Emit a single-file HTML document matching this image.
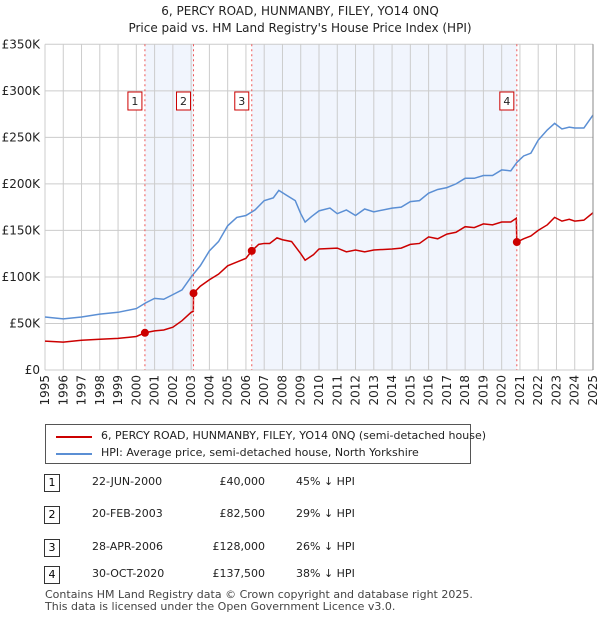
<!DOCTYPE html>
<html><head><meta charset="utf-8"><style>
body{margin:0;background:#fff;font-family:"DejaVu Sans","Liberation Sans",sans-serif;}
#wrap{position:relative;width:600px;height:620px;}
.t{position:absolute;font-size:12px;color:#222;white-space:nowrap;}
svg text{font-family:"DejaVu Sans","Liberation Sans",sans-serif;}
</style></head><body>
<div id="wrap">
<svg id="chart" width="600" height="420" style="position:absolute;left:0;top:0">
<text x="300" y="15" text-anchor="middle" font-size="12" fill="#222">6, PERCY ROAD, HUNMANBY, FILEY, YO14 0NQ</text>
<text x="300" y="32" text-anchor="middle" font-size="12" fill="#222">Price paid vs. HM Land Registry's House Price Index (HPI)</text>
<g id="bg"></g><g id="grid"></g><g id="series"></g><g id="marks"></g><g id="axes"></g>
</svg>
<div style="position:absolute;left:45px;top:424px;width:424px;height:38px;border:1px solid #555;">
<div style="position:absolute;left:10px;top:11px;width:36px;height:2px;background:#cc0000"></div>
<div class="t" style="left:55px;top:4px;font-size:11px">6, PERCY ROAD, HUNMANBY, FILEY, YO14 0NQ (semi-detached house)</div>
<div style="position:absolute;left:10px;top:28px;width:36px;height:2px;background:#5b8fd4"></div>
<div class="t" style="left:55px;top:21px;font-size:11px">HPI: Average price, semi-detached house, North Yorkshire</div>
</div>
<div id="table"></div>
<div class="t" style="left:45px;top:589px;font-size:11px;color:#444;line-height:12px">Contains HM Land Registry data © Crown copyright and database right 2025.<br>This data is licensed under the Open Government Licence v3.0.</div>
</div>
<script>
const hpiYears=[1995,1996,1997,1998,1999,2000,2000.5,2001,2001.5,2002,2002.5,2003,2003.5,2004,2004.5,2005,2005.5,2006,2006.5,2007,2007.5,2007.8,2008.2,2008.7,2009,2009.24,2009.6,2010,2010.6,2011,2011.5,2012,2012.5,2013,2014,2014.5,2015,2015.5,2016,2016.5,2017,2017.5,2018,2018.5,2019,2019.5,2020,2020.5,2020.83,2021.2,2021.6,2022,2022.5,2022.9,2023.3,2023.7,2024,2024.5,2025];
const hpiValues=[57,55,57,60,62,66,72,77,76,81,86,100,112,128,138,155,164,166,172,182,185,193,188,182,168,159,165,171,174,168,172,166,173,170,174,175,181,182,190,194,196,200,206,206,209,209,215,214,223,230,233,247,258,265,259,261,260,260,274];
const ppYears=[1995,1996,1997,1998,1999,2000,2000.47,2001,2001.5,2002,2002.5,2003,2003.12,2003.13,2003.5,2004,2004.5,2005,2005.5,2006,2006.32,2006.7,2007,2007.3,2007.7,2008,2008.5,2009,2009.24,2009.7,2010,2011,2011.5,2012,2012.5,2013,2014,2014.5,2015,2015.5,2016,2016.5,2017,2017.5,2018,2018.5,2019,2019.5,2020,2020.5,2020.8,2020.83,2021.2,2021.6,2022,2022.5,2022.9,2023.3,2023.7,2024,2024.5,2025];
const ppValues=[31,30,32,33,34,36,40,42,43,46,53,62,63,82.5,90,97,103,112,116,120,128,135,136,136,142,140,138,125,118,124,130,131,127,129,127,129,130,131,135,136,143,141,146,148,154,153,157,156,159,159,163,137.5,141,144,150,156,164,160,162,160,161,169];
const saleYears=[2000.47,2003.13,2006.32,2020.83];
const saleValues=[40,82.5,128,137.5];
const saleLabels=["1","2","3","4"];
const saleDates=["22-JUN-2000","20-FEB-2003","28-APR-2006","30-OCT-2020"];
const salePrices=["£40,000","£82,500","£128,000","£137,500"];
const saleDiffs=["45% ↓ HPI","29% ↓ HPI","26% ↓ HPI","38% ↓ HPI"];
const yTicks=[0,50,100,150,200,250,300,350];
const yTickLabels=["£0","£50K","£100K","£150K","£200K","£250K","£300K","£350K"];
const xTicks=[1995,1996,1997,1998,1999,2000,2001,2002,2003,2004,2005,2006,2007,2008,2009,2010,2011,2012,2013,2014,2015,2016,2017,2018,2019,2020,2021,2022,2023,2024,2025];

const X0=45,X1=593,Y0=370,Y1=44.3;
const x=y=>X0+(y-1995)/30*(X1-X0);
const yv=v=>Y0-v/350*(Y0-Y1);
const NS="http://www.w3.org/2000/svg";
function mk(tag,parent,attrs){const e=document.createElementNS(NS,tag);for(const k in attrs)e.setAttribute(k,attrs[k]);document.getElementById(parent).appendChild(e);return e;}
for(let i=0;i<4;i+=2){
 const r=mk('rect','bg',{x:x(saleYears[i]),y:Y1,width:x(saleYears[i+1])-x(saleYears[i]),height:Y0-Y1,fill:'#eef3fd',opacity:0.8});
 
 
}
yTicks.forEach((t,i)=>{
 const l=mk('line','grid',{x1:X0,x2:X1,y1:yv(t),y2:yv(t),stroke:'#ccc','stroke-width':1});
 
 
 const tx=mk('text','axes',{x:40,y:yv(t)+4,'text-anchor':'end','font-size':12,fill:'#222'});
 tx.textContent=yTickLabels[i];
 
 
});
xTicks.forEach(t=>{
 const l=mk('line','grid',{x1:x(t),x2:x(t),y1:Y1,y2:Y0,stroke:'#ccc','stroke-width':1});
 
 
 const tx=mk('text','axes',{x:0,y:0,'text-anchor':'end','font-size':12,fill:'#222',transform:`translate(${x(t)+4},375) rotate(-90)`});
 tx.textContent=t;
 
 
});
const ax=mk('line','axes',{x1:X1,x2:X1,y1:Y1,y2:Y0,stroke:'#888','stroke-width':1});


const hp=mk('polyline','series',{points:hpiYears.map((t,i)=>x(t)+','+yv(hpiValues[i])).join(' '),fill:'none',stroke:'#5b8fd4','stroke-width':1.5});


const pp=mk('polyline','series',{points:ppYears.map((t,i)=>x(t)+','+yv(ppValues[i])).join(' '),fill:'none',stroke:'#cc0000','stroke-width':1.5});


saleYears.forEach((t,i)=>{
 const l=mk('line','marks',{x1:x(t),x2:x(t),y1:Y1,y2:Y0,stroke:'#e55','stroke-width':1,'stroke-dasharray':'2,3'});
 
 
 const c=mk('circle','marks',{cx:x(t),cy:yv(saleValues[i]),r:4,fill:'#cc0000'});
 
 
 const bx=mk('rect','marks',{x:x(t)-17,y:92,width:14,height:18,fill:'#fff',stroke:'#cc0000'});
 
 
 const tx=mk('text','marks',{x:x(t)-10,y:105,'text-anchor':'middle','font-size':11,fill:'#222'});
 tx.textContent=saleLabels[i];
 
 
});
const tb=document.getElementById('table');
const rowY=[482,514,547,574];
saleLabels.forEach((s,i)=>{
 const r=document.createElement('div');
 
 
 r.innerHTML=`<div style="position:absolute;left:44px;top:${rowY[i]-8}px;width:14px;height:16px;border:1px solid #333;font-size:11px;text-align:center;line-height:16px">${s}</div>
<div class="t" style="left:92px;top:${rowY[i]-7}px;font-size:11px">${saleDates[i]}</div>
<div class="t" style="left:180px;top:${rowY[i]-7}px;width:85px;text-align:right;font-size:11px">${salePrices[i]}</div>
<div class="t" style="left:296px;top:${rowY[i]-7}px;font-size:11px">${saleDiffs[i]}</div>`;
 tb.appendChild(r);
});
</script>
</body></html>
